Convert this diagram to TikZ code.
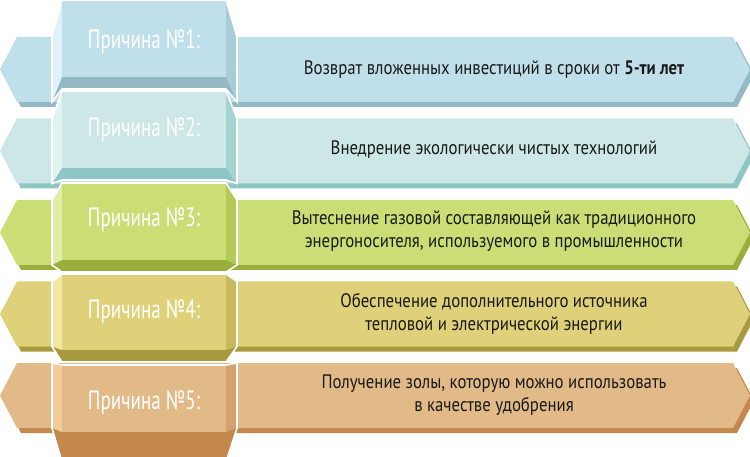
\documentclass[tikz,border=0pt]{standalone}
\usepackage{fontspec}
\setmainfont{PT Sans}[FakeStretch=0.86]
\newfontfamily\tabfont{PT Sans}[FakeStretch=0.72]
\definecolor{c1}{HTML}{BFDFEB}\definecolor{l1}{HTML}{DDF2FA}\definecolor{r1}{HTML}{A9CCD9}\definecolor{d1}{HTML}{93B8C6}
\definecolor{c2}{HTML}{CCE7E6}\definecolor{l2}{HTML}{E0F4F2}\definecolor{r2}{HTML}{A5D3D2}\definecolor{d2}{HTML}{8DC6C5}
\definecolor{c3}{HTML}{CBDD75}\definecolor{l3}{HTML}{DEEDA8}\definecolor{r3}{HTML}{B3CA5B}\definecolor{d3}{HTML}{98AE3D}
\definecolor{c4}{HTML}{DFD07A}\definecolor{l4}{HTML}{F1E6A3}\definecolor{r4}{HTML}{C9B85C}\definecolor{d4}{HTML}{A89A3E}
\definecolor{c5}{HTML}{E1BA88}\definecolor{l5}{HTML}{F0CD9A}\definecolor{r5}{HTML}{D6A171}\definecolor{d5}{HTML}{C4874C}
\definecolor{txtcol}{HTML}{1A1A1A}
\begin{document}
\begin{tikzpicture}[x=1pt,y=-1pt,
  tabtext/.style={text=white,font=\tabfont\fontsize{26.5}{30}\selectfont,inner sep=0pt},
  bodytext/.style={text=txtcol,font=\fontsize{19.5}{23}\selectfont,align=center,inner sep=0pt},
  outline/.style={draw=white,line width=1.6pt,line join=miter}]
\useasboundingbox (0,0) rectangle (750,457);
\clip (0,0) rectangle (750,457);
\foreach \i/\bt/\t/\f/\g/\ty in {1/37/0/77/89/42, 2/118.5/91/168/180/130, 3/200/183/260/272/220, 4/281.5/274/350/362/312, 5/363/365/432/462/403}{
  \pgfmathsetmacro{\bb}{\bt+65}
  \pgfmathsetmacro{\mid}{\bt+32.5}
  % band shadow
  \fill[d\i] (21,\bt+5) -- (737,\bt+5) -- (754,\mid+5) -- (737,\bb+5) -- (21,\bb+5) -- (4,\mid+5) -- cycle;
  % band
  \fill[c\i] (17,\bt) -- (733,\bt) -- (750,\mid) -- (733,\bb) -- (17,\bb) -- (0,\mid) -- cycle;
  % tab body (bottom face colour)
  \fill[d\i] (62,\t) -- (226,\t) -- (237,\bt) -- (237,\bb) -- (226,\g) -- (62,\g) -- (52,\bb) -- (52,\bt) -- cycle;
  % left bevel
  \fill[l\i] (62,\t) -- (52,\bt) -- (52,\bb) -- (62,\f) -- cycle;
  % right bevel
  \fill[r\i] (226,\t) -- (237,\bt) -- (237,\bb) -- (226,\f) -- cycle;
  % front face
  \fill[c\i] (62,\t) rectangle (226,\f);
  % outline
  \draw[outline] (62,\t) -- (226,\t) -- (237,\bt) -- (237,\bb) -- (226,\g) -- (62,\g) -- (52,\bb) -- (52,\bt) -- cycle;
  \node[tabtext] (tab\i) at (144,\ty) {Причина №\i:};
}
\node[bodytext] (txt1) at (494,69.5) {Возврат вложенных инвестиций в сроки от \textbf{5-ти лет}};
\node[bodytext] (txt2) at (494,150) {Внедрение экологически чистых технологий};
\node[bodytext] (txt3) at (494,231) {Вытеснение газовой составляющей как традиционного\\энергоносителя, используемого в промышленности};
\node[bodytext] (txt4) at (494,314) {Обеспечение дополнительного источника\\тепловой и электрической энергии};
\node[bodytext] (txt5) at (494,395) {Получение золы, которую можно использовать\\в качестве удобрения};
\end{tikzpicture}
\end{document}
